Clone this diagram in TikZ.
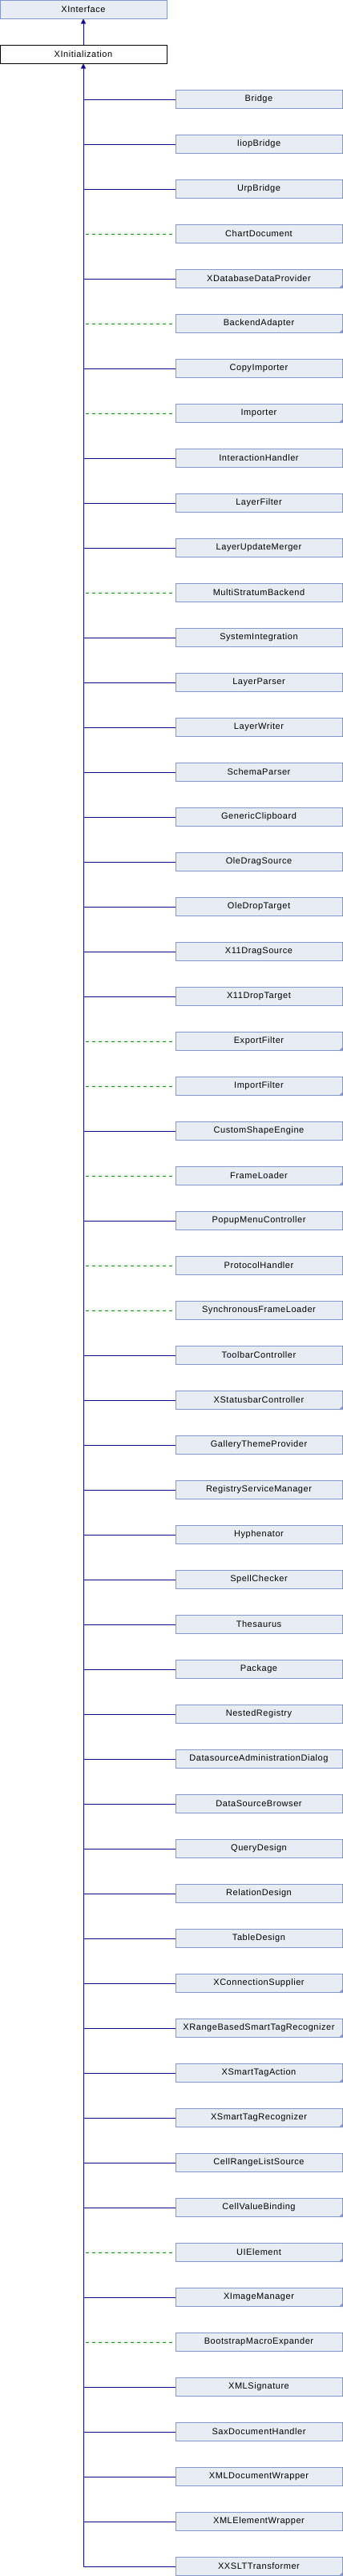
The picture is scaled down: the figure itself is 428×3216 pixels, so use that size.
\documentclass[tikz,border=0pt]{standalone}
\usepackage{fontspec}
\setmainfont{Liberation Sans}[LetterSpace=5]
\usepackage{tikz}
\usetikzlibrary{arrows.meta, positioning}
\definecolor{boxfill}{RGB}{232,236,244}
\definecolor{boxline}{RGB}{132,152,204}
\definecolor{solidline}{RGB}{10,10,150}
\definecolor{dashline}{RGB}{0,160,0}
\tikzset{
  cls/.style={draw=boxline, fill=boxfill, line width=1pt, minimum width=208pt, minimum height=23pt, inner sep=0pt, font=\fontsize{11}{13}\selectfont},
  here/.style={cls, draw=black, fill=white},
  uses/.style={draw=solidline, line width=1pt},
  impl/.style={draw=dashline, line width=1pt, dash pattern=on 4pt off 4pt, shorten <=3pt, shorten >=3pt},
  up/.style={-{Triangle[width=6pt,length=6pt]}}
}
\newcommand{\cornermark}[1]{\fill[boxline] (#1.south east) -- ++(-5,0) -- ++(5,-5) -- cycle;}

\begin{document}
\begin{tikzpicture}[x=1pt, y=-1pt]
\useasboundingbox (0,0) rectangle (428,3216);
%% parents
  \node[cls] (xinterface) at (104, 11.5) {XInterface};
  \node[here] (xinit) at (104, 67.5) {XInitialization};
  \draw[uses, up] (xinit) -- (xinterface);
%% children
  \node[cls] (bridge) at (323, 124) {Bridge};
  \node[cls] (iiopbridge) at (323, 180) {IiopBridge};
  \node[cls] (urpbridge) at (323, 236) {UrpBridge};
  \node[cls] (chartdoc) at (323, 292) {ChartDocument};
  \node[cls] (dbprovider) at (323, 348) {XDatabaseDataProvider};
  \node[cls] (backendadapter) at (323, 404) {BackendAdapter};
  \node[cls] (copyimporter) at (323, 460) {CopyImporter};
  \node[cls] (importer) at (323, 516) {Importer};
  \node[cls] (interaction) at (323, 572) {InteractionHandler};
  \node[cls] (layerfilter) at (323, 628) {LayerFilter};
  \node[cls] (layermerger) at (323, 684) {LayerUpdateMerger};
  \node[cls] (multistratum) at (323, 740) {MultiStratumBackend};
  \node[cls] (sysint) at (323, 796) {SystemIntegration};
  \node[cls] (layerparser) at (323, 852) {LayerParser};
  \node[cls] (layerwriter) at (323, 908) {LayerWriter};
  \node[cls] (schemaparser) at (323, 964) {SchemaParser};
  \node[cls] (genclip) at (323, 1020) {GenericClipboard};
  \node[cls] (oledragsrc) at (323, 1076) {OleDragSource};
  \node[cls] (oledroptgt) at (323, 1132) {OleDropTarget};
  \node[cls] (xdragsrc) at (323, 1188) {X11DragSource};
  \node[cls] (xdroptgt) at (323, 1244) {X11DropTarget};
  \node[cls] (exportfilter) at (323, 1300) {ExportFilter};
  \node[cls] (importfilter) at (323, 1356) {ImportFilter};
  \node[cls] (customshape) at (323, 1412) {CustomShapeEngine};
  \node[cls] (frameloader) at (323, 1468) {FrameLoader};
  \node[cls] (popupmenu) at (323, 1524) {PopupMenuController};
  \node[cls] (protocol) at (323, 1580) {ProtocolHandler};
  \node[cls] (syncframe) at (323, 1636) {SynchronousFrameLoader};
  \node[cls] (toolbar) at (323, 1692) {ToolbarController};
  \node[cls] (statusbar) at (323, 1748) {XStatusbarController};
  \node[cls] (gallery) at (323, 1804) {GalleryThemeProvider};
  \node[cls] (regsvc) at (323, 1860) {RegistryServiceManager};
  \node[cls] (hyphenator) at (323, 1916) {Hyphenator};
  \node[cls] (spellchecker) at (323, 1972) {SpellChecker};
  \node[cls] (thesaurus) at (323, 2028) {Thesaurus};
  \node[cls] (package) at (323, 2084) {Package};
  \node[cls] (nestedreg) at (323, 2140) {NestedRegistry};
  \node[cls] (dsadmin) at (323, 2196) {DatasourceAdministrationDialog};
  \node[cls] (dsbrowser) at (323, 2252) {DataSourceBrowser};
  \node[cls] (querydesign) at (323, 2308) {QueryDesign};
  \node[cls] (reldesign) at (323, 2364) {RelationDesign};
  \node[cls] (tabledesign) at (323, 2420) {TableDesign};
  \node[cls] (connsupplier) at (323, 2476) {XConnectionSupplier};
  \node[cls] (rangerecog) at (323, 2532) {XRangeBasedSmartTagRecognizer};
  \node[cls] (tagaction) at (323, 2588) {XSmartTagAction};
  \node[cls] (tagrecog) at (323, 2644) {XSmartTagRecognizer};
  \node[cls] (cellrange) at (323, 2700) {CellRangeListSource};
  \node[cls] (cellvalue) at (323, 2756) {CellValueBinding};
  \node[cls] (uielement) at (323, 2812) {UIElement};
  \node[cls] (imagemgr) at (323, 2868) {XImageManager};
  \node[cls] (bootstrap) at (323, 2924) {BootstrapMacroExpander};
  \node[cls] (xmlsig) at (323, 2980) {XMLSignature};
  \node[cls] (saxhandler) at (323, 3036) {SaxDocumentHandler};
  \node[cls] (xmldocwrap) at (323, 3092) {XMLDocumentWrapper};
  \node[cls] (xmlelemwrap) at (323, 3148) {XMLElementWrapper};
  \node[cls] (xslt) at (323, 3204) {XXSLTTransformer};
%% corner marks
  \cornermark{dbprovider}
  \cornermark{backendadapter}
  \cornermark{importer}
  \cornermark{exportfilter}
  \cornermark{importfilter}
  \cornermark{frameloader}
  \cornermark{statusbar}
  \cornermark{connsupplier}
  \cornermark{rangerecog}
  \cornermark{tagaction}
  \cornermark{tagrecog}
  \cornermark{cellvalue}
  \cornermark{uielement}
  \cornermark{imagemgr}
  \cornermark{xslt}
%% trunk
  \draw[uses, up] (xinit.south |- xslt.west) -- (xinit.south);
%% branches
  \draw[uses] (xinit.south |- bridge.west) -- (bridge.west);
  \draw[uses] (xinit.south |- iiopbridge.west) -- (iiopbridge.west);
  \draw[uses] (xinit.south |- urpbridge.west) -- (urpbridge.west);
  \draw[impl] (xinit.south |- chartdoc.west) -- (chartdoc.west);
  \draw[uses] (xinit.south |- dbprovider.west) -- (dbprovider.west);
  \draw[impl] (xinit.south |- backendadapter.west) -- (backendadapter.west);
  \draw[uses] (xinit.south |- copyimporter.west) -- (copyimporter.west);
  \draw[impl] (xinit.south |- importer.west) -- (importer.west);
  \draw[uses] (xinit.south |- interaction.west) -- (interaction.west);
  \draw[uses] (xinit.south |- layerfilter.west) -- (layerfilter.west);
  \draw[uses] (xinit.south |- layermerger.west) -- (layermerger.west);
  \draw[impl] (xinit.south |- multistratum.west) -- (multistratum.west);
  \draw[uses] (xinit.south |- sysint.west) -- (sysint.west);
  \draw[uses] (xinit.south |- layerparser.west) -- (layerparser.west);
  \draw[uses] (xinit.south |- layerwriter.west) -- (layerwriter.west);
  \draw[uses] (xinit.south |- schemaparser.west) -- (schemaparser.west);
  \draw[uses] (xinit.south |- genclip.west) -- (genclip.west);
  \draw[uses] (xinit.south |- oledragsrc.west) -- (oledragsrc.west);
  \draw[uses] (xinit.south |- oledroptgt.west) -- (oledroptgt.west);
  \draw[uses] (xinit.south |- xdragsrc.west) -- (xdragsrc.west);
  \draw[uses] (xinit.south |- xdroptgt.west) -- (xdroptgt.west);
  \draw[impl] (xinit.south |- exportfilter.west) -- (exportfilter.west);
  \draw[impl] (xinit.south |- importfilter.west) -- (importfilter.west);
  \draw[uses] (xinit.south |- customshape.west) -- (customshape.west);
  \draw[impl] (xinit.south |- frameloader.west) -- (frameloader.west);
  \draw[uses] (xinit.south |- popupmenu.west) -- (popupmenu.west);
  \draw[impl] (xinit.south |- protocol.west) -- (protocol.west);
  \draw[impl] (xinit.south |- syncframe.west) -- (syncframe.west);
  \draw[uses] (xinit.south |- toolbar.west) -- (toolbar.west);
  \draw[uses] (xinit.south |- statusbar.west) -- (statusbar.west);
  \draw[uses] (xinit.south |- gallery.west) -- (gallery.west);
  \draw[uses] (xinit.south |- regsvc.west) -- (regsvc.west);
  \draw[uses] (xinit.south |- hyphenator.west) -- (hyphenator.west);
  \draw[uses] (xinit.south |- spellchecker.west) -- (spellchecker.west);
  \draw[uses] (xinit.south |- thesaurus.west) -- (thesaurus.west);
  \draw[uses] (xinit.south |- package.west) -- (package.west);
  \draw[uses] (xinit.south |- nestedreg.west) -- (nestedreg.west);
  \draw[uses] (xinit.south |- dsadmin.west) -- (dsadmin.west);
  \draw[uses] (xinit.south |- dsbrowser.west) -- (dsbrowser.west);
  \draw[uses] (xinit.south |- querydesign.west) -- (querydesign.west);
  \draw[uses] (xinit.south |- reldesign.west) -- (reldesign.west);
  \draw[uses] (xinit.south |- tabledesign.west) -- (tabledesign.west);
  \draw[uses] (xinit.south |- connsupplier.west) -- (connsupplier.west);
  \draw[uses] (xinit.south |- rangerecog.west) -- (rangerecog.west);
  \draw[uses] (xinit.south |- tagaction.west) -- (tagaction.west);
  \draw[uses] (xinit.south |- tagrecog.west) -- (tagrecog.west);
  \draw[uses] (xinit.south |- cellrange.west) -- (cellrange.west);
  \draw[uses] (xinit.south |- cellvalue.west) -- (cellvalue.west);
  \draw[impl] (xinit.south |- uielement.west) -- (uielement.west);
  \draw[uses] (xinit.south |- imagemgr.west) -- (imagemgr.west);
  \draw[impl] (xinit.south |- bootstrap.west) -- (bootstrap.west);
  \draw[uses] (xinit.south |- xmlsig.west) -- (xmlsig.west);
  \draw[uses] (xinit.south |- saxhandler.west) -- (saxhandler.west);
  \draw[uses] (xinit.south |- xmldocwrap.west) -- (xmldocwrap.west);
  \draw[uses] (xinit.south |- xmlelemwrap.west) -- (xmlelemwrap.west);
  \draw[uses] (xinit.south |- xslt.west) -- (xslt.west);
\end{tikzpicture}
\end{document}
